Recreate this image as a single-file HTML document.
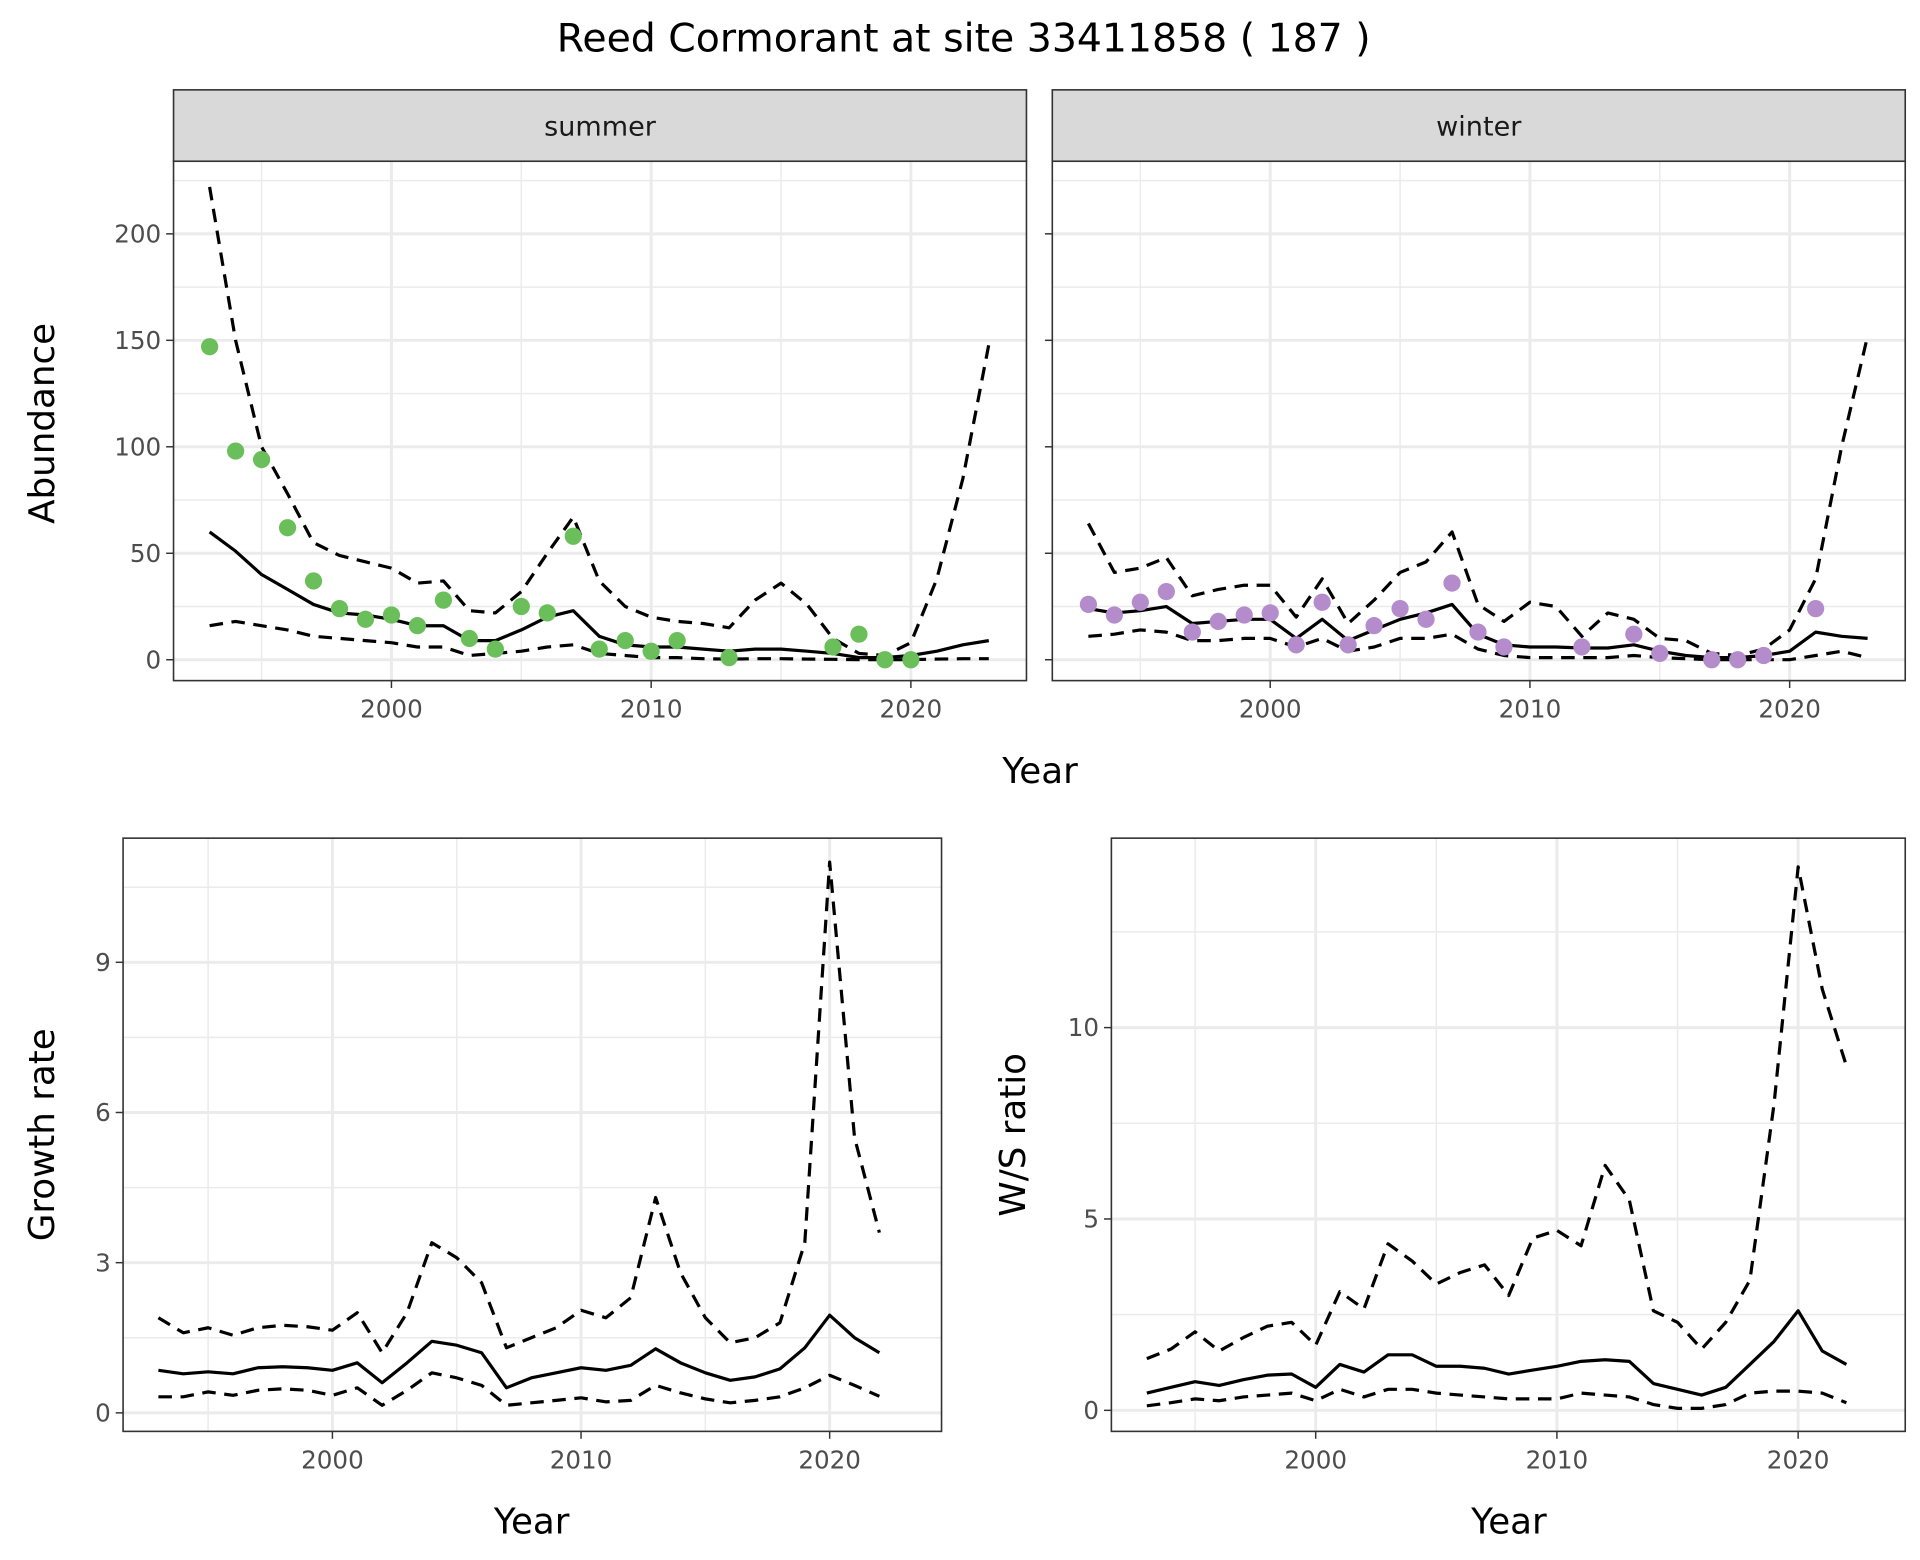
<!DOCTYPE html>
<html><head><meta charset="utf-8"><style>
html,body{margin:0;padding:0;background:#fff;}
svg{display:block;font-family:"DejaVu Sans","Liberation Sans",sans-serif;}
</style></head><body>
<svg id="chart" width="1920" height="1560" viewBox="0 0 1560 1267.5" xmlns="http://www.w3.org/2000/svg">
<text x="783" y="42" font-size="32" text-anchor="middle" fill="#000">Reed Cormorant at site 33411858 ( 187 )</text>
</svg>
<script>
const yearsA = [1993,1994,1995,1996,1997,1998,1999,2000,2001,2002,2003,2004,2005,2006,2007,2008,2009,2010,2011,2012,2013,2014,2015,2016,2017,2018,2019,2020,2021,2022,2023];
const summerMean = [60,51,40,33,26,22,21,19,16,16,9,9,14,20,23,11,7,6,6,5,4,5,5,4,3,1,1,2,4,7,9];
const summerUpper = [222,150,100,78,55,49,46,43,36,37,23,22,32,50,67,37,25,20,18,17,15,28,36,26,10,3,2,8,38,85,148];
const summerLower = [16,18,16,14,11,10,9,8,6,6,2,3,4,6,7,3,2,1,1,0.5,0.3,0.5,0.5,0.3,0.2,0,0,0,0.3,0.5,0.5];
const summerPtYears = [1993,1994,1995,1996,1997,1998,1999,2000,2001,2002,2003,2004,2005,2006,2007,2008,2009,2010,2011,2013,2017,2018,2019,2020];
const summerPts = [147,98,94,62,37,24,19,21,16,28,10,5,25,22,58,5,9,4,9,1,6,12,0,0];
const winterMean = [24,22,23,25,17,18,19,19,10,19,9,14,19,22,26,12,7,6,6,5.5,5.5,7,4,2,1,1,2,4,13,11,10];
const winterUpper = [64,41,43,48,30,33,35,35,20,38,17,28,41,46,60,26,18,27,25,11,22,19,10,9,3,2,5,14,38,100,152];
const winterLower = [11,12,14,13,9,9,10,10,6,10,4,6,10,10,12,5,2,1,1,1,1,2,1,0.5,0,0,0,0,2,4,1];
const winterPtYears = [1993,1994,1995,1996,1997,1998,1999,2000,2001,2002,2003,2004,2005,2006,2007,2008,2009,2012,2014,2015,2017,2018,2019,2021];
const winterPts = [26,21,27,32,13,18,21,22,7,27,7,16,24,19,36,13,6,6,12,3,0,0,2,24];
const yearsB = [1993,1994,1995,1996,1997,1998,1999,2000,2001,2002,2003,2004,2005,2006,2007,2008,2009,2010,2011,2012,2013,2014,2015,2016,2017,2018,2019,2020,2021,2022];
const growthMean = [0.85,0.78,0.82,0.78,0.9,0.92,0.9,0.85,1.0,0.6,1.0,1.43,1.35,1.2,0.5,0.7,0.8,0.9,0.85,0.95,1.28,1.0,0.8,0.65,0.72,0.88,1.3,1.95,1.5,1.2];
const growthUpper = [1.9,1.6,1.7,1.55,1.7,1.75,1.72,1.65,2.0,1.2,2.0,3.4,3.1,2.6,1.3,1.5,1.7,2.05,1.9,2.3,4.3,2.8,1.9,1.4,1.5,1.8,3.4,11.0,5.5,3.6];
const growthLower = [0.32,0.32,0.42,0.35,0.45,0.48,0.45,0.35,0.5,0.15,0.45,0.8,0.7,0.55,0.15,0.2,0.25,0.3,0.22,0.25,0.55,0.4,0.28,0.2,0.25,0.32,0.5,0.75,0.55,0.33];
const wsMean = [0.45,0.6,0.75,0.65,0.8,0.92,0.95,0.6,1.2,1.0,1.45,1.45,1.15,1.15,1.1,0.95,1.05,1.15,1.28,1.32,1.28,0.7,0.55,0.4,0.6,1.2,1.8,2.6,1.55,1.2];
const wsUpper = [1.35,1.6,2.05,1.55,1.9,2.2,2.3,1.7,3.1,2.65,4.35,3.9,3.3,3.6,3.8,3.0,4.5,4.7,4.3,6.4,5.5,2.6,2.3,1.6,2.3,3.4,8.0,14.2,11.0,9.0];
const wsLower = [0.12,0.2,0.3,0.25,0.35,0.4,0.45,0.25,0.55,0.35,0.55,0.55,0.45,0.4,0.35,0.3,0.3,0.3,0.45,0.4,0.35,0.15,0.05,0.05,0.15,0.45,0.5,0.5,0.45,0.2];
const xTicks = [2000,2010,2020];
const xMinor = [1995,2005,2015];
const abTicks = [0,50,100,150,200];
const abMinor = [25,75,125,175,225];
const grTicks = [0,3,6,9];
const grMinor = [1.5,4.5,7.5,10.5];
const wsTicks = [0,5,10];
const wsMinor = [2.5,7.5,12.5];

const svg = document.getElementById('chart');
const NS = 'http://www.w3.org/2000/svg';
function mk(tag, attrs, parent){
  const e = document.createElementNS(NS, tag);
  for (const k in attrs) e.setAttribute(k, attrs[k]);
  (parent||svg).appendChild(e);
  return e;
}
function panel(name, box, xr, yr, yt, ym, showY){
  const g = mk('g', {});
  
  
  const sx = v => box.x0 + (v - xr[0]) / (xr[1] - xr[0]) * (box.x1 - box.x0);
  const sy = v => box.y1 - (v - yr[0]) / (yr[1] - yr[0]) * (box.y1 - box.y0);
  mk('rect', {x:box.x0, y:box.y0, width:box.x1-box.x0, height:box.y1-box.y0, fill:'#fff'}, g);
  ym.forEach(v => mk('line', {x1:box.x0, x2:box.x1, y1:sy(v), y2:sy(v), stroke:'#ebebeb', 'stroke-width':1.2}, g));
  xMinor.forEach(v => mk('line', {x1:sx(v), x2:sx(v), y1:box.y0, y2:box.y1, stroke:'#ebebeb', 'stroke-width':1.2}, g));
  yt.forEach(v => {
    mk('line', {x1:box.x0, x2:box.x1, y1:sy(v), y2:sy(v), stroke:'#ebebeb', 'stroke-width':2.4}, g);
    mk('line', {x1:box.x0-6, x2:box.x0, y1:sy(v), y2:sy(v), stroke:'#333', 'stroke-width':1.2}, g);
    if (showY){
      const t = mk('text', {x:box.x0-10, y:sy(v)+7, 'font-size':20, 'text-anchor':'end', fill:'#4d4d4d'}, g);
      t.textContent = v;
      
      
    }
  });
  xTicks.forEach(v => {
    mk('line', {x1:sx(v), x2:sx(v), y1:box.y0, y2:box.y1, stroke:'#ebebeb', 'stroke-width':2.4}, g);
    mk('line', {x1:sx(v), x2:sx(v), y1:box.y1, y2:box.y1+6, stroke:'#333', 'stroke-width':1.2}, g);
    const t = mk('text', {x:sx(v), y:box.y1+30, 'font-size':20, 'text-anchor':'middle', fill:'#4d4d4d'}, g);
    t.textContent = v;
    
    
  });
  return {g, sx, sy, box};
}
function line(p, xs, ys, dashed, name){
  const d = xs.map((x,i) => (i?'L':'M') + p.sx(x).toFixed(1) + ',' + p.sy(ys[i]).toFixed(1)).join(' ');
  const el = mk('path', {d, fill:'none', stroke:'#000', 'stroke-width':2.6, 'stroke-dasharray': dashed ? '11,7' : 'none', 'stroke-linejoin':'round'}, p.g);
  
  
}
function points(p, xs, ys, color, name){
  xs.forEach((x,i) => {
    const c = mk('circle', {cx:p.sx(x), cy:p.sy(ys[i]), r:7, fill:color}, p.g);
    
    
  });
}
function border(p){
  mk('rect', {x:p.box.x0, y:p.box.y0, width:p.box.x1-p.box.x0, height:p.box.y1-p.box.y0, fill:'none', stroke:'#333', 'stroke-width':1.3}, p.g);
}
function strip(box, label, name){
  const r = mk('rect', {x:box.x0, y:73, width:box.x1-box.x0, height:58, fill:'#d9d9d9', stroke:'#333', 'stroke-width':1.3});
  
  
  const t = mk('text', {x:(box.x0+box.x1)/2, y:110, 'font-size':22, 'text-anchor':'middle', fill:'#1a1a1a'});
  t.textContent = label;
  
  
}
function label(txt, x, y, rot, name){
  const t = mk('text', {x, y, 'font-size':29, 'text-anchor':'middle', fill:'#000', transform: rot ? `rotate(-90 ${x} ${y})` : ''});
  t.textContent = txt;
  
  
}

const bS = {x0:141, x1:834, y0:131, y1:553};
const pS = panel('summer-panel', bS, [1991.61, 2024.45], [-9.8, 234.1], abTicks, abMinor, true);
line(pS, yearsA, summerUpper, true, 'summer-upper-ci');
line(pS, yearsA, summerLower, true, 'summer-lower-ci');
line(pS, yearsA, summerMean, false, 'summer-mean-line');
points(pS, summerPtYears, summerPts, '#6abf5a', 'summer-count-point');
border(pS);
strip(bS, 'summer', 'summer-strip');
const bW = {x0:855, x1:1548, y0:131, y1:553};
const pW = panel('winter-panel', bW, [1991.61, 2024.45], [-9.8, 234.1], abTicks, abMinor, false);
line(pW, yearsA, winterUpper, true, 'winter-upper-ci');
line(pW, yearsA, winterLower, true, 'winter-lower-ci');
line(pW, yearsA, winterMean, false, 'winter-mean-line');
points(pW, winterPtYears, winterPts, '#b48ccc', 'winter-count-point');
border(pW);
strip(bW, 'winter', 'winter-strip');
label('Abundance', 44, 344, true, 'abundance-axis-title');
label('Year', 845, 636, false, 'top-x-axis-title');

const bG = {x0:100, x1:765, y0:681, y1:1163};
const pG = panel('growth-panel', bG, [1991.58, 2024.5], [-0.37, 11.48], grTicks, grMinor, true);
line(pG, yearsB, growthUpper, true, 'growth-upper-ci');
line(pG, yearsB, growthLower, true, 'growth-lower-ci');
line(pG, yearsB, growthMean, false, 'growth-mean-line');
border(pG);
label('Growth rate', 44, 922, true, 'growth-axis-title');
label('Year', 432, 1246, false, 'growth-x-axis-title');

const bR = {x0:903, x1:1548, y0:681, y1:1163};
const pR = panel('ws-ratio-panel', bR, [1991.53, 2024.44], [-0.55, 14.95], wsTicks, wsMinor, true);
line(pR, yearsB, wsUpper, true, 'ws-upper-ci');
line(pR, yearsB, wsLower, true, 'ws-lower-ci');
line(pR, yearsB, wsMean, false, 'ws-mean-line');
border(pR);
label('W/S ratio', 833, 922, true, 'ws-axis-title');
label('Year', 1226, 1246, false, 'ws-x-axis-title');
</script>
</body></html>
